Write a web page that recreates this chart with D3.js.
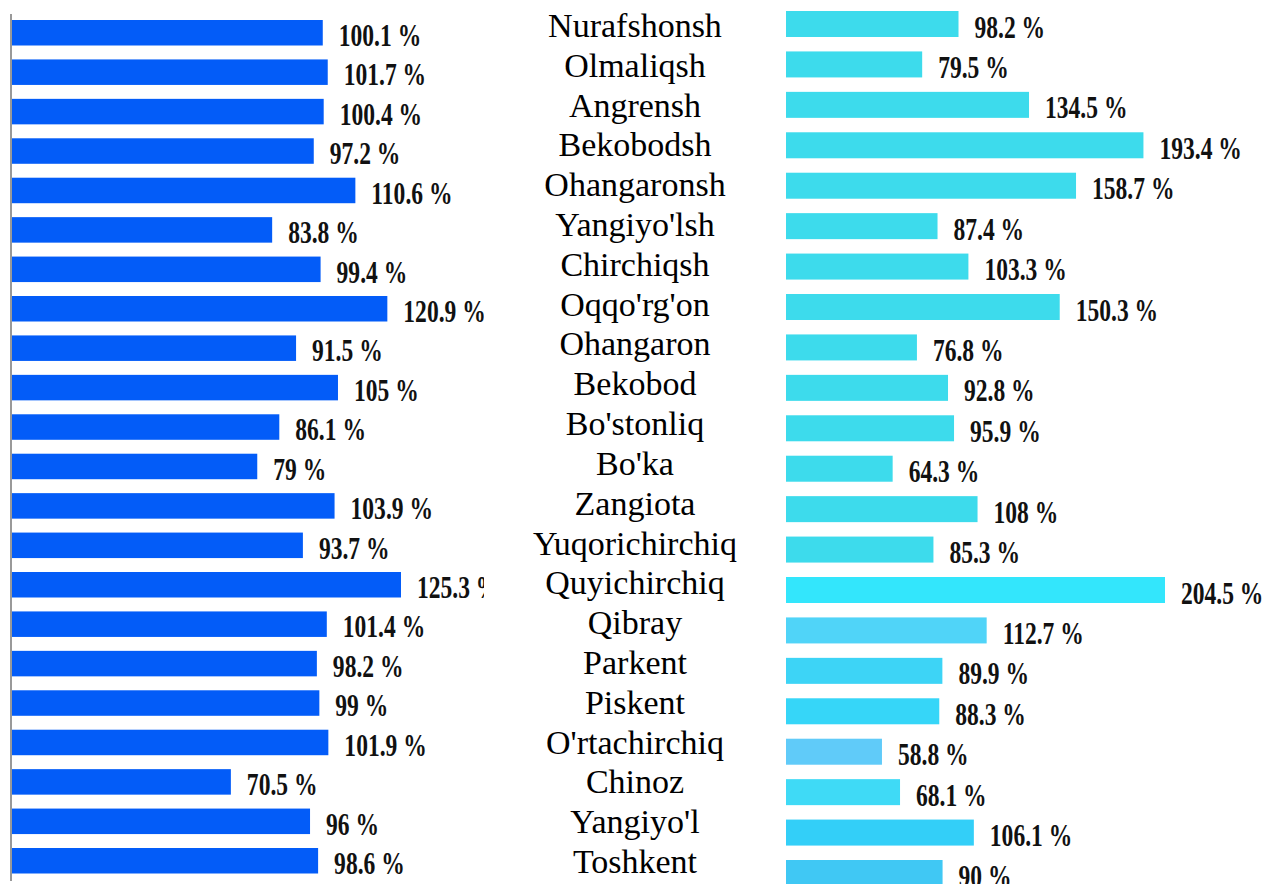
<!DOCTYPE html>
<html>
<head>
<meta charset="utf-8">
<script src="https://cdn.jsdelivr.net/npm/d3@7"></script>
<style>
  body { margin: 0; background: #fff; }
  svg { display: block; }
  text { font-family: "Liberation Serif", "Times New Roman", Times, "DejaVu Serif", serif; }
</style>
</head>
<body>
<div id="chart"></div>
<script>
// tumanlar / shaharlar
var categories = ["Nurafshonsh", "Olmaliqsh", "Angrensh", "Bekobodsh", "Ohangaronsh", "Yangiyo'lsh",
    "Chirchiqsh", "Oqqo'rg'on", "Ohangaron", "Bekobod", "Bo'stonliq", "Bo'ka", "Zangiota",
    "Yuqorichirchiq", "Quyichirchiq", "Qibray", "Parkent", "Piskent", "O'rtachirchiq",
    "Chinoz", "Yangiyo'l", "Toshkent"];

var leftValues = [100.1, 101.7, 100.4, 97.2, 110.6, 83.8, 99.4, 120.9, 91.5, 105, 86.1, 79,
    103.9, 93.7, 125.3, 101.4, 98.2, 99, 101.9, 70.5, 96, 98.6];

var rightValues = [98.2, 79.5, 134.5, 193.4, 158.7, 87.4, 103.3, 150.3, 76.8, 92.8, 95.9, 64.3,
    108, 85.3, 204.5, 112.7, 89.9, 88.3, 58.8, 68.1, 106.1, 90];

// ranglar
var leftColor = "#035cf8";
var rightColors = ["#3ddbec", "#3ddbec", "#3ddbec", "#3ddbec", "#3ddbec", "#3ddbec",
    "#3ddbec", "#3ddbec", "#3ddbec", "#3ddbec", "#3ddbec", "#3ddbec", "#3ddbec",
    "#3ddbec", "#33e6fc", "#50d4f8", "#3dd4f6", "#36d6f8", "#60cbf9", "#3fdaf6",
    "#33cff8", "#40c8f4"];

var width = 1262,
    height = 884,
    barH = 26,
    labelGap = 16;

var svg = d3.select("#chart")
    .append("svg")
    .attr("width", width)
    .attr("height", height);

svg.append("defs").append("clipPath")
    .attr("id", "leftClip")
    .append("rect")
    .attr("x", -12).attr("y", 0)
    .attr("width", 484).attr("height", height);

var yLeft = d3.scalePoint().domain(categories).range([20, 848]);
var yRight = d3.scalePoint().domain(categories).range([11, 860]);
var yLabel = d3.scalePoint().domain(categories).range([37, 873]);

var xLeft = d3.scaleLinear().domain([0, 125.3]).range([0, 389]);
var xRight = d3.scaleLinear().domain([9.4, 204.5]).range([0, 379]);

//chap panel
var left = svg.append("g")
    .attr("transform", "translate(12,0)")
    .attr("clip-path", "url(#leftClip)");

left.selectAll("rect")
    .data(leftValues)
    .enter()
    .append("rect")
    .attr("x", 0)
    .attr("y", function (d, i) { return yLeft(categories[i]); })
    .attr("width", function (d) { return xLeft(d); })
    .attr("height", barH - 0.5)
    .style("fill", leftColor);

left.selectAll("text")
    .data(leftValues)
    .enter()
    .append("text")
    .attr("transform", function (d, i) {
        return "translate(" + (xLeft(d) + labelGap) + "," + (yLeft(categories[i]) + barH) + ") scale(0.76,1)";
    })
    .attr("font-weight", "bold")
    .attr("font-size", 31)
    .style("fill", "#111")
    .text(function (d) { return d + " %"; });

svg.append("line")
    .attr("x1", 11).attr("x2", 11)
    .attr("y1", 14).attr("y2", 881)
    .attr("stroke", "#777")
    .attr("stroke-width", 1.5);

//nomlar
svg.append("g")
    .selectAll("text")
    .data(categories)
    .enter()
    .append("text")
    .attr("x", 635)
    .attr("y", function (d) { return yLabel(d); })
    .attr("text-anchor", "middle")
    .attr("font-size", 34)
    .style("fill", "#000")
    .text(function (d) { return d; });

//o'ng panel
var right = svg.append("g")
    .attr("transform", "translate(786,0)");

right.selectAll("rect")
    .data(rightValues)
    .enter()
    .append("rect")
    .attr("x", 0)
    .attr("y", function (d, i) { return yRight(categories[i]); })
    .attr("width", function (d) { return xRight(d); })
    .attr("height", barH)
    .style("fill", function (d, i) { return rightColors[i]; });

right.selectAll("text")
    .data(rightValues)
    .enter()
    .append("text")
    .attr("transform", function (d, i) {
        return "translate(" + (xRight(d) + labelGap) + "," + (yRight(categories[i]) + barH + 0.5) + ") scale(0.76,1)";
    })
    .attr("font-weight", "bold")
    .attr("font-size", 31)
    .style("fill", "#111")
    .text(function (d) { return d + " %"; });
</script>
</body>
</html>
